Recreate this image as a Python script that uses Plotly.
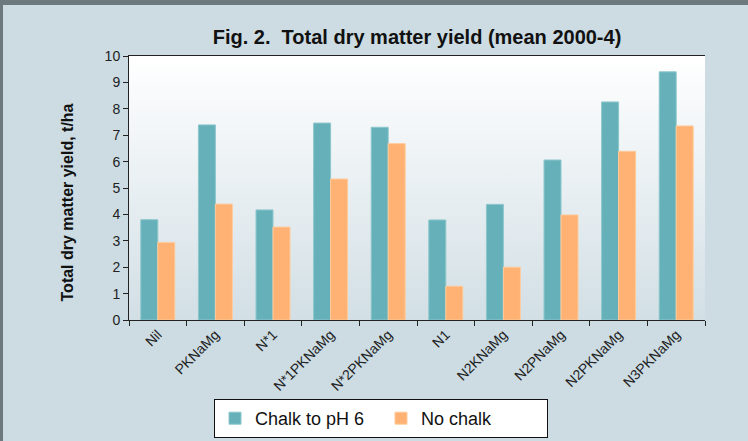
import base64

import plotly.graph_objects as go

TREATMENTS = ['Nil', 'PKNaMg', 'N*1', 'N*1PKNaMg', 'N*2PKNaMg',
              'N1', 'N2KNaMg', 'N2PNaMg', 'N2PKNaMg', 'N3PKNaMg']
CHALK = [3.80, 7.39, 4.17, 7.46, 7.30, 3.79, 4.38, 6.06, 8.26, 9.40]
NO_CHALK = [2.94, 4.39, 3.52, 5.34, 6.68, 1.28, 2.00, 3.98, 6.39, 7.35]

BG = '#CCDCE2'
FRAME = '#6C7A80'
FONT = 'Liberation Sans, Arial, sans-serif'

# vertical white -> blue-grey gradient for the plot area (plotly has no gradient plot_bgcolor)
svg = ('<svg xmlns="http://www.w3.org/2000/svg" width="100" height="100" preserveAspectRatio="none">'
       '<defs><linearGradient id="g" x1="0" y1="0" x2="0" y2="1">'
       '<stop offset="0" stop-color="#FFFFFF"/><stop offset="1" stop-color="#D2DFE5"/>'
       '</linearGradient></defs><rect width="100" height="100" fill="url(#g)"/></svg>')
svg_uri = 'data:image/svg+xml;base64,' + base64.b64encode(svg.encode()).decode()

fig = go.Figure()
fig.add_trace(go.Bar(x=TREATMENTS, y=CHALK, name='Chalk to pH 6',
                     marker=dict(color='#66B1B9', line=dict(color='#8CC7CC', width=1))))
fig.add_trace(go.Bar(x=TREATMENTS, y=NO_CHALK, name='No chalk',
                     marker=dict(color='#FFB273', line=dict(color='#FFCB9C', width=1))))

fig.update_layout(
    width=748, height=441,
    margin=dict(l=129, r=43, t=56, b=121),
    paper_bgcolor=BG,
    plot_bgcolor='rgba(0,0,0,0)',
    font=dict(family=FONT, size=14, color='#222222'),
    barmode='group',
    bargap=0.41,
    bargroupgap=0,
    title=dict(text='<b>Fig. 2.  Total dry matter yield (mean 2000-4)</b>',
               x=0.5, xref='paper', xanchor='center',
               y=1 - 37 / 441, yref='container', yanchor='middle',
               font=dict(size=20, color='#111111')),
    xaxis=dict(
        type='category', automargin=False,
        showline=True, linecolor='#222222', linewidth=1, mirror=True,
        ticks='outside', tickson='boundaries', ticklen=5, tickcolor='#222222',
        tickangle=-45, tickfont=dict(size=14),
        showgrid=False,
    ),
    yaxis=dict(
        range=[0, 10], dtick=1, automargin=False,
        showline=True, linecolor='#222222', linewidth=1,
        ticks='outside', ticklen=5, tickcolor='#222222',
        showgrid=False, zeroline=False,
        tickfont=dict(size=14),
    ),
    # y title sits a little below the plot's middle in the original, so use an annotation
    annotations=[dict(text='<b>Total dry matter yield, t/ha</b>', textangle=-90,
                      xref='paper', yref='paper', x=-0.106, y=0.445,
                      xanchor='center', yanchor='middle', showarrow=False,
                      font=dict(size=16, color='#111111'))],
    legend=dict(
        orientation='h',
        xref='container', yref='container',
        x=214 / 748, xanchor='left', y=1 - 418.5 / 441, yanchor='middle',
        bgcolor='#FFFFFF', bordercolor='#111111', borderwidth=1,
        font=dict(size=18, color='#111111'),
        itemwidth=30, entrywidth=121,
    ),
    images=[dict(source=svg_uri, xref='paper', yref='paper', x=0, y=1,
                 sizex=1, sizey=1, sizing='stretch', layer='below')],
    shapes=[
        # dark frame strips along the top and left edges
        dict(type='rect', xref='paper', yref='paper', x0=-0.224, x1=1.08,
             y0=1.1932, y1=1.22, fillcolor=FRAME, line_width=0, layer='below'),
        dict(type='rect', xref='paper', yref='paper', x0=-0.224, x1=-0.21875,
             y0=-0.46, y1=1.22, fillcolor=FRAME, line_width=0, layer='below'),
    ],
)

# drop the browser's default 8px body margin so the figure sits at the page corner
fig.write_html('out.html', config={'displayModeBar': False},
               post_script="document.body.style.margin='0';")
